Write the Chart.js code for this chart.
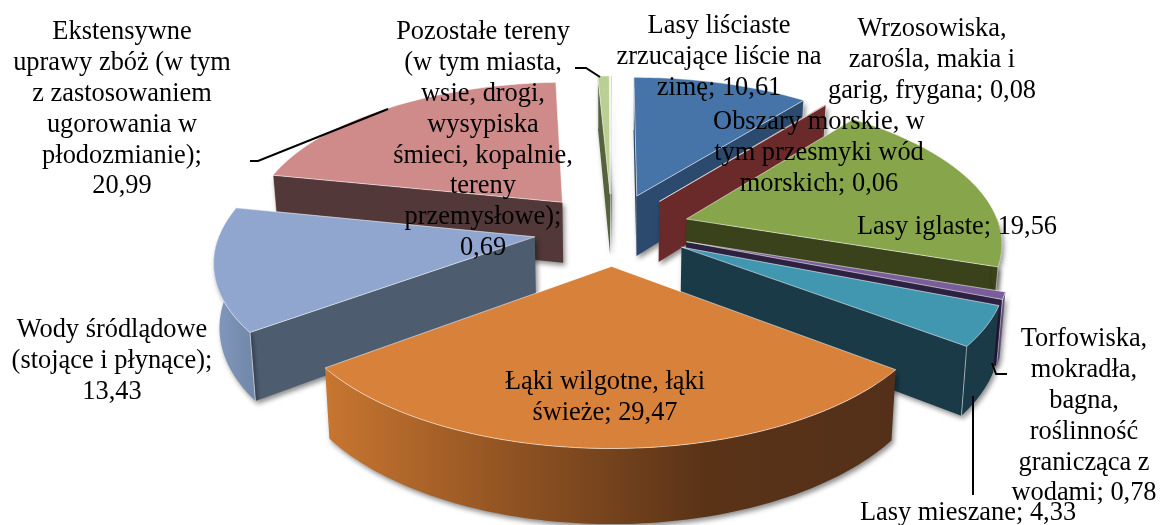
<!DOCTYPE html>
<html lang="pl"><head><meta charset="utf-8"><title>Pokrycie terenu</title>
<script src="https://cdn.jsdelivr.net/npm/chart.js@4"></script>
<style>html,body{margin:0;padding:0;background:#fff}canvas{display:block}</style>
</head><body><canvas id="c" width="1160" height="525"></canvas>
<script>
const categories = ["Lasy liściaste zrzucające liście na zimę","Wrzosowiska, zarośla, makia i garig, frygana","Lasy iglaste","Torfowiska, mokradła, bagna, roślinność granicząca z wodami","Lasy mieszane","Łąki wilgotne, łąki świeże","Wody śródlądowe (stojące i płynące)","Ekstensywne uprawy zbóż (w tym z zastosowaniem ugorowania w płodozmianie)","Pozostałe tereny (w tym miasta, wsie, drogi, wysypiska śmieci, kopalnie, tereny przemysłowe)","Obszary morskie, w tym przesmyki wód morskich"];
const values = [10.61,0.08,19.56,0.78,4.33,29.47,13.43,20.99,0.69,0.06];
const topColors = ["#4673A8","#A33B38","#87A64B","#7A5D9B","#4197B0","#D8813B","#90A6CE","#CE8B8A","#BACF93","#B3A2C7"];
const sideColors = ["#2C4A6E","#6B2A2A","#3A421C","#2C2140","#193A46","#5A3317","#4E5C70","#523838","#56633A","#5A4F6A"];
const outerColors = [["#2C4A6E"],["#6B2A2A"],["#3A421C"],["#6A5386"],["#193A46"],["#C87630","#8F5222","#5A3317","#54301A"],["#8299BE","#7389AB"],["#523838"],["#56633A"],["#5A4F6A"]];
const labelLines = [
 ["Lasy liściaste","zrzucające liście na","zimę; 10,61"],
 ["Wrzosowiska,","zarośla, makia i","garig, frygana; 0,08"],
 ["Lasy iglaste; 19,56"],
 ["Torfowiska,","mokradła,","bagna,","roślinność","granicząca z","wodami; 0,78"],
 ["Lasy mieszane; 4,33"],
 ["Łąki wilgotne, łąki","świeże; 29,47"],
 ["Wody śródlądowe","(stojące i płynące);","13,43"],
 ["Ekstensywne","uprawy zbóż (w tym","z zastosowaniem","ugorowania w","płodozmianie);","20,99"],
 ["Pozostałe tereny","(w tym miasta,","wsie, drogi,","wysypiska","śmieci, kopalnie,","tereny","przemysłowe);","0,69"],
 ["Obszary morskie, w","tym przesmyki wód","morskich; 0,06"]
];
const labelCenterX = [719,932,957,1084,968,605,112,122,483,819];
const labelFirstY = [26,29,227,339,513,382,330,32,32,122];
const leaderLines = [[[250,161],[258,161],[388,109]],[[575,68],[586,68],[600,77]],[[973,396],[973,495]],[[992,363],[996,374],[1007,374]]];
const view = {radiusScale:1.37, explode:0.25, tilt:0.46, persp:2200, depthRatio:0.198, depthShrink:0.985};

const pie3d = {
 id:'pie3d',
 beforeDatasetDraw(chart,args){
  const ctx=chart.ctx, meta=chart.getDatasetMeta(0);
  const order=meta.data.map((a,i)=>i).sort((p,q)=>bisY(meta.data[p])-bisY(meta.data[q]));
  function bisY(a){return Math.sin((a.startAngle+a.endAngle)/2);}
  order.forEach(i=>{
   const a=meta.data[i], R=a.outerRadius*view.radiusScale, mid=(a.startAngle+a.endAngle)/2;
   const ox=Math.cos(mid)*R*view.explode, oy=Math.sin(mid)*R*view.explode, h=R*view.depthRatio;
   const P=(X,Y,low)=>{const s=1/(1-Y/view.persp);
     const k=low?view.depthShrink:1;
     return [a.x+X*s*k, a.y+Y*view.tilt*s+(low?h*s:0)];};
   const at=(ang,r,low)=>P(ox+Math.cos(ang)*r,oy+Math.sin(ang)*r,low);
   const n=Math.max(2,Math.ceil((a.endAngle-a.startAngle)/0.02));
   const arcT=[],arcB=[];
   for(let j=0;j<=n;j++){const t=a.startAngle+(a.endAngle-a.startAngle)*j/n;arcT.push(at(t,R,false));arcB.push(at(t,R,true));}
   const apexT=at(0,0,false), apexB=at(0,0,true);
   const poly=(pts,fill)=>{ctx.beginPath();pts.forEach((p,k)=>k?ctx.lineTo(p[0],p[1]):ctx.moveTo(p[0],p[1]));ctx.closePath();ctx.fillStyle=fill;ctx.fill();};
   const area=q=>{let s=0;q.forEach((p,k)=>{const r=q[(k+1)%q.length];s+=p[0]*r[1]-r[0]*p[1];});return s;};
   const edges=[];
   ctx.save();
   ctx.shadowColor='rgba(0,0,0,0.45)';ctx.shadowBlur=5;ctx.shadowOffsetX=2;ctx.shadowOffsetY=3;
   const s1=[apexT,arcT[0],arcB[0],apexB], s2=[arcT[n],apexT,apexB,arcB[n]];
   if(area(s1)<0){poly(s1,sideColors[i]);edges.push([arcT[0],arcB[0]]);}
   if(area(s2)<0){poly(s2,sideColors[i]);edges.push([arcT[n],arcB[n]]);}
   let run=[];
   const stops=outerColors[i];
   let fill=stops[0];
   if(stops.length>1){const xs=arcT.map(p=>p[0]);const g=ctx.createLinearGradient(Math.min(...xs),0,Math.max(...xs),0);stops.forEach((c,k)=>g.addColorStop(k/(stops.length-1),c));fill=g;}
   const flush=()=>{if(run.length>1){const pts=run.map(j=>arcT[j]).concat(run.slice().reverse().map(j=>arcB[j]));poly(pts,fill);}run=[];};
   for(let j=0;j<=n;j++){const t=a.startAngle+(a.endAngle-a.startAngle)*j/n;if(Math.sin(t)>-0.02)run.push(j);else flush();}
   flush();
   ctx.restore();
   ctx.lineWidth=1;ctx.strokeStyle='rgba(255,255,255,0.55)';
   edges.forEach(e=>{ctx.beginPath();ctx.moveTo(e[0][0],e[0][1]);ctx.lineTo(e[1][0],e[1][1]);ctx.stroke();});
   const top=[apexT].concat(arcT);
   poly(top,a.options.backgroundColor);
   ctx.beginPath();top.forEach((p,k)=>k?ctx.lineTo(p[0],p[1]):ctx.moveTo(p[0],p[1]));ctx.closePath();
   ctx.stroke();
  });
  return false;
 },
 afterDraw(chart){
  const ctx=chart.ctx;
  ctx.save();
  ctx.strokeStyle='#000';ctx.lineWidth=2;
  leaderLines.forEach(l=>{ctx.beginPath();l.forEach((p,k)=>k?ctx.lineTo(p[0],p[1]):ctx.moveTo(p[0],p[1]));ctx.stroke();});
  ctx.fillStyle='#000';ctx.font='26.4px "Liberation Serif"';ctx.textAlign='center';ctx.textBaseline='middle';
  labelLines.forEach((ls,i)=>ls.forEach((t,k)=>ctx.fillText(t,labelCenterX[i],labelFirstY[i]+k*30.9)));
  ctx.restore();
 }
};
new Chart(document.getElementById('c'),{
 type:'pie',
 data:{labels:categories,datasets:[{data:values,backgroundColor:topColors,borderWidth:0}]},
 options:{responsive:false,animation:false,layout:{padding:{left:64,bottom:67}},
  plugins:{legend:{display:false},tooltip:{enabled:false},title:{display:false}}},
 plugins:[pie3d]
});
</script></body></html>
